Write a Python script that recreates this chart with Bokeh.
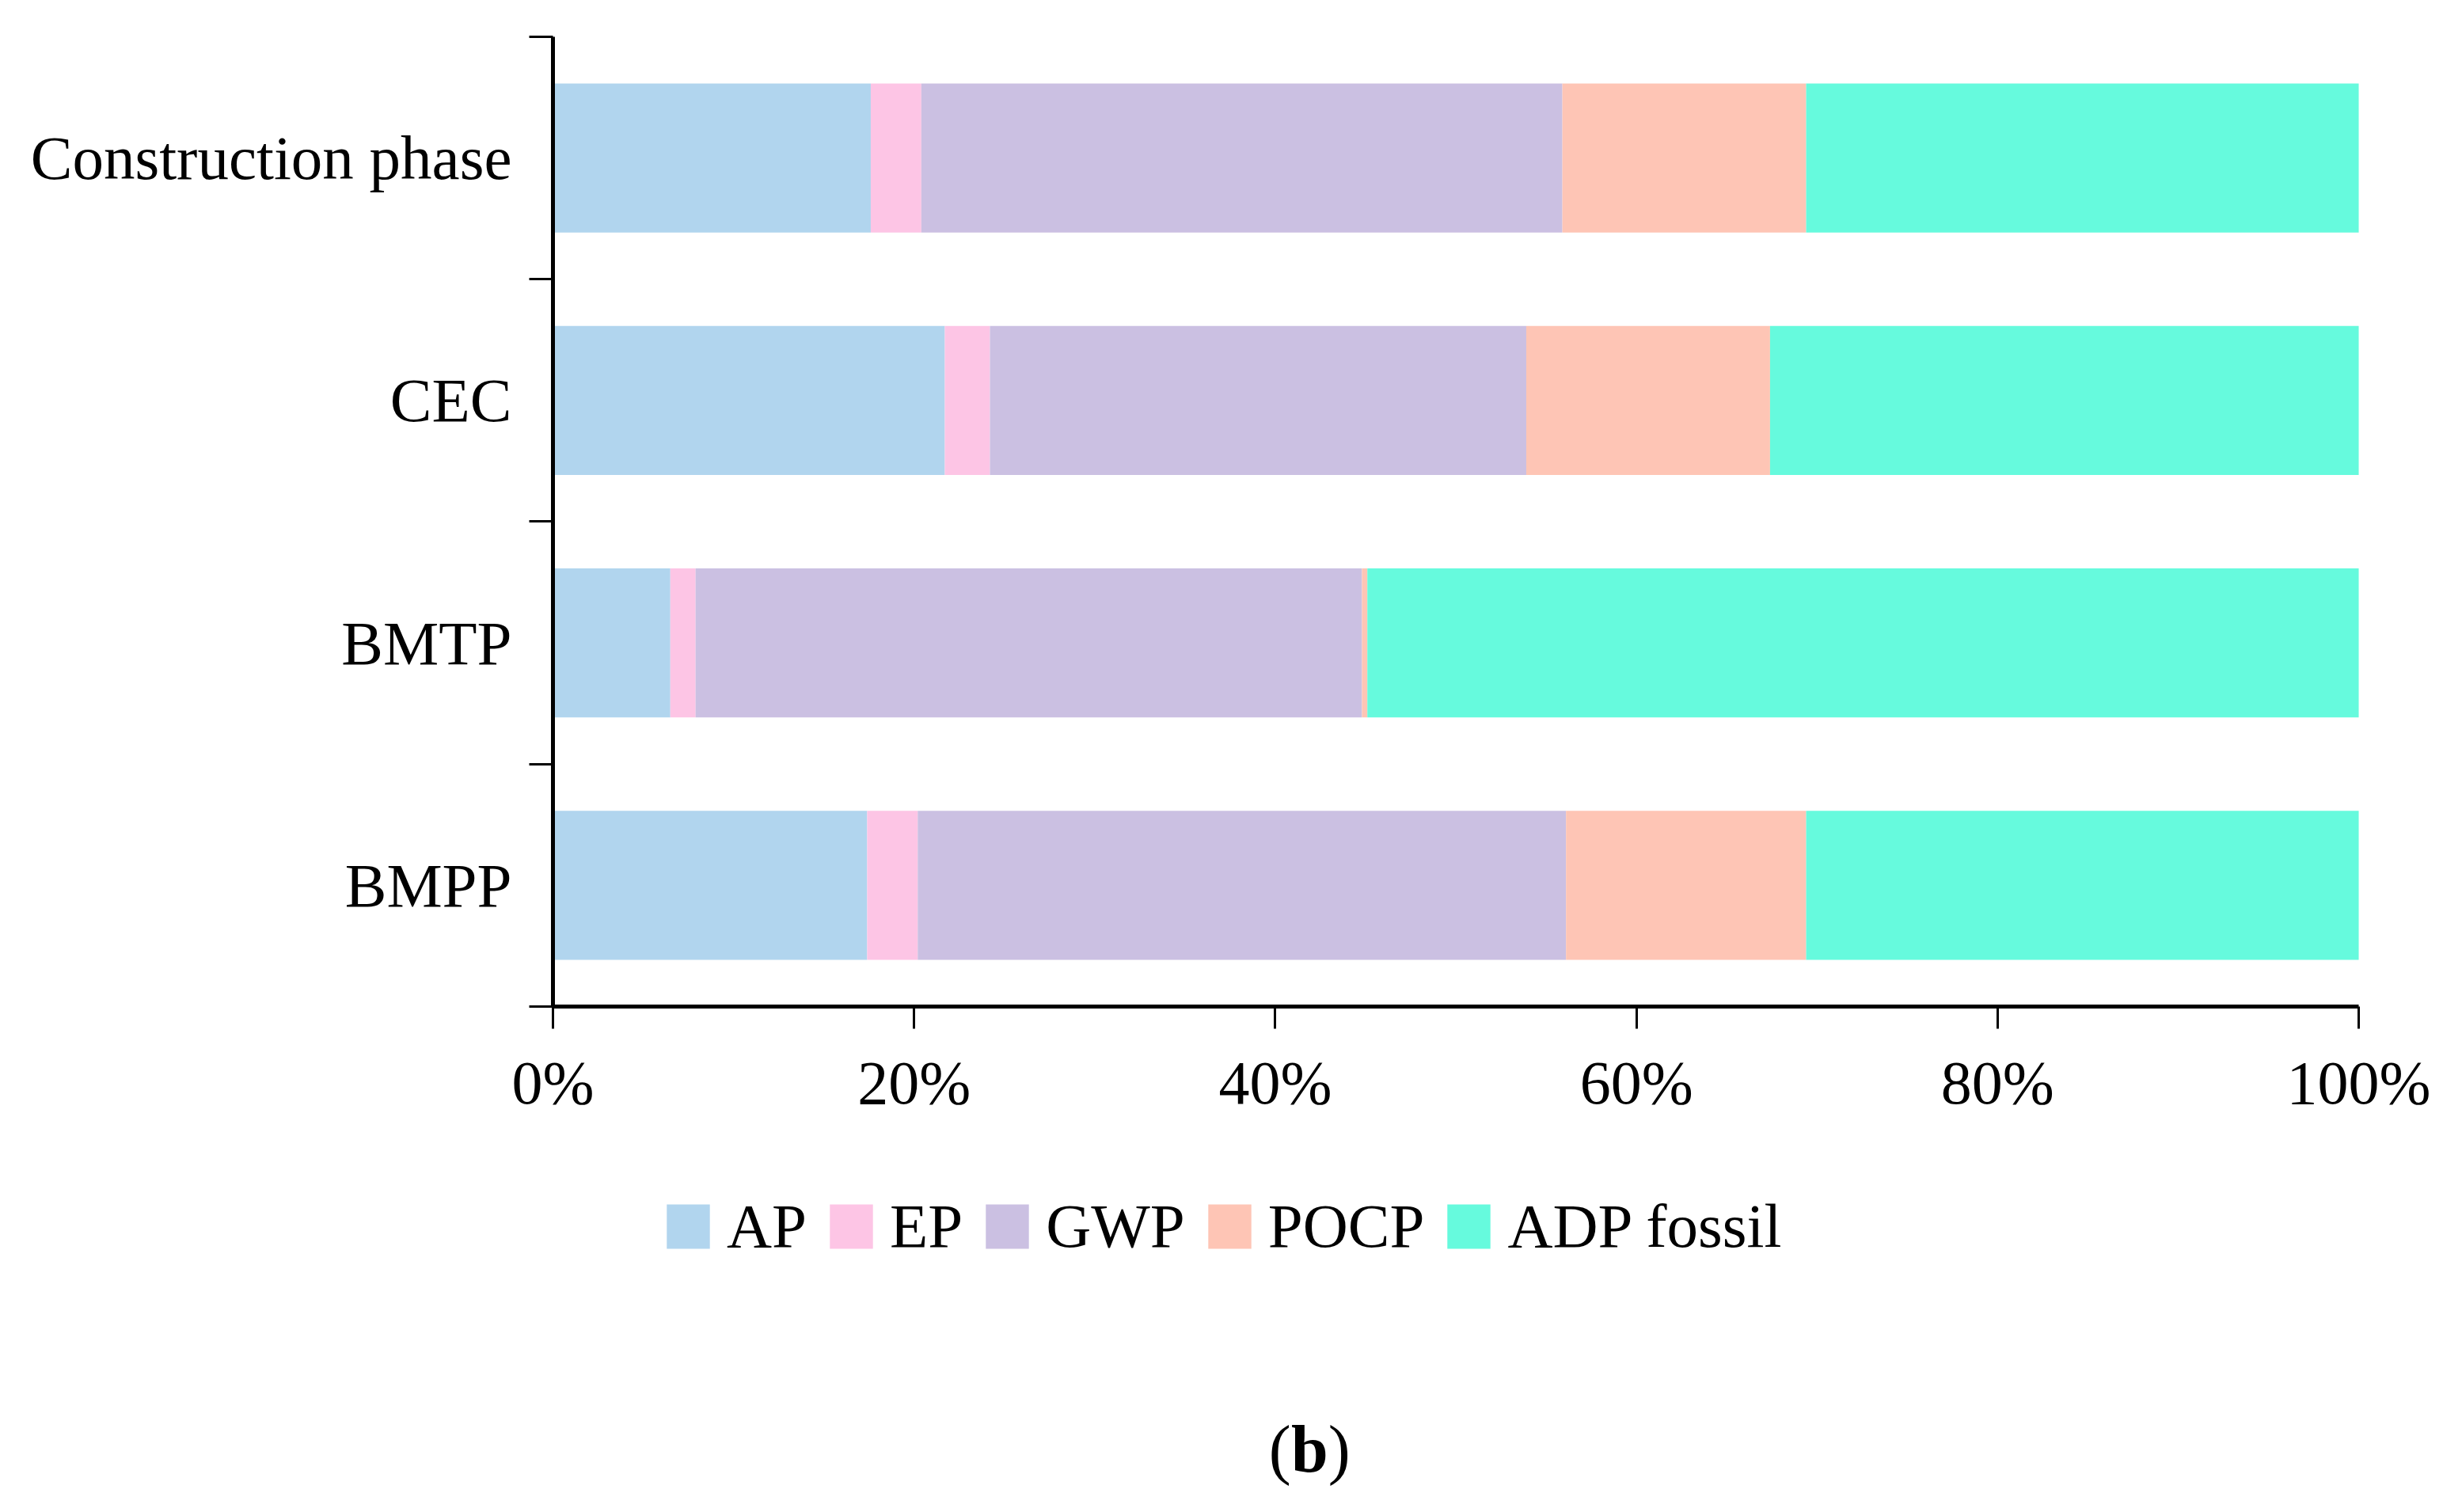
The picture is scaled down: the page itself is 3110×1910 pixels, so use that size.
from bokeh.plotting import figure
from bokeh.models import (ColumnDataSource, Range1d, FixedTicker, PrintfTickFormatter,
                          Legend, LegendItem, Label)
from bokeh.embed import file_html
from bokeh.resources import INLINE

# ---- data ----
categories = ["Construction phase", "CEC", "BMTP", "BMPP"]
series = ["AP", "EP", "GWP", "POCP", "ADP fossil"]
ap = [17.6, 21.7, 6.5, 17.4]
ep = [2.8, 2.5, 1.4, 2.8]
gwp = [35.5, 29.7, 36.9, 35.9]
pocp = [13.5, 13.5, 0.3, 13.3]
adp_fossil = [30.6, 32.6, 54.9, 30.6]
x_ticks = [0, 20, 40, 60, 80, 100]
colors = ["#b1d5ee", "#fdc5e5", "#cbc0e2", "#fec5b5", "#66fadd"]

FONT = "Liberation Serif"
FS = "78px"

n = len(categories)
# bottom-most category is the last one in the list
ypos = [n - 1 - i + 0.5 for i in range(n)]
source = ColumnDataSource(dict(y=ypos, AP=ap, EP=ep, GWP=gwp, POCP=pocp, ADP=adp_fossil))
keys = ["AP", "EP", "GWP", "POCP", "ADP"]

# the frame covers the whole canvas; axes are drawn at fixed data locations
p = figure(width=3094, height=1894, output_backend="svg", toolbar_location=None,
           x_range=Range1d(-30.60, 105.04), y_range=Range1d(-2.034, 4.150),
           min_border_left=0, min_border_right=0, min_border_top=0, min_border_bottom=0)

renderers = p.hbar_stack(keys, y="y", height=0.615, color=colors, line_color=None, source=source)

p.xgrid.visible = False
p.ygrid.visible = False
p.outline_line_color = None
p.background_fill_color = "white"
p.border_fill_color = "white"

# x axis, drawn at y = 0
xa = p.xaxis[0]
xa.fixed_location = 0
xa.bounds = (0, 100)
xa.ticker = FixedTicker(ticks=x_ticks)
xa.formatter = PrintfTickFormatter(format="%d%%")
xa.axis_line_width = 5
xa.axis_line_color = "black"
xa.major_tick_out = 28
xa.major_tick_in = 0
xa.major_tick_line_width = 3
xa.minor_tick_out = 0
xa.minor_tick_in = 0
xa.major_label_text_font = FONT
xa.major_label_text_font_size = FS
xa.major_label_text_color = "black"
xa.major_label_standoff = 24

# y axis, drawn at x = 0 and limited to the bar area
ya = p.yaxis[0]
ya.fixed_location = 0
ya.bounds = (0, n)
ya.ticker = FixedTicker(ticks=ypos, minor_ticks=list(range(n + 1)))
ya.major_label_overrides = {y: c for y, c in zip(ypos, categories)}
ya.axis_line_width = 5
ya.axis_line_color = "black"
ya.major_tick_out = 0
ya.major_tick_in = 0
ya.minor_tick_out = 30
ya.minor_tick_in = 0
ya.minor_tick_line_width = 3
ya.minor_tick_line_color = "black"
ya.major_label_text_font = FONT
ya.major_label_text_font_size = "79px"
ya.major_label_text_color = "black"
ya.major_label_standoff = 22

# legend
items = [LegendItem(label=s, renderers=[r]) for s, r in zip(series, renderers)]
legend = Legend(items=items, orientation="horizontal", location=(835, 300),
                glyph_width=68, glyph_height=70, label_standoff=15, spacing=22,
                padding=0, margin=0, border_line_color=None, background_fill_alpha=0,
                label_text_font=FONT, label_text_font_size="79px", label_text_color="black")
p.add_layout(legend, "center")

# panel label "(b)"
BY = -1.825
p.add_layout(Label(x=40.87, y=BY, text="(", text_font=FONT, text_font_size="84px",
                   text_align="right", text_baseline="middle", text_color="black"))
p.add_layout(Label(x=41.9, y=BY, text="b", text_font=FONT, text_font_size="84px",
                   text_font_style="bold", text_align="center", text_baseline="middle",
                   text_color="black"))
p.add_layout(Label(x=42.93, y=BY, text=")", text_font=FONT, text_font_size="84px",
                   text_align="left", text_baseline="middle", text_color="black"))

open("out.html", "w").write(file_html(p, INLINE))
